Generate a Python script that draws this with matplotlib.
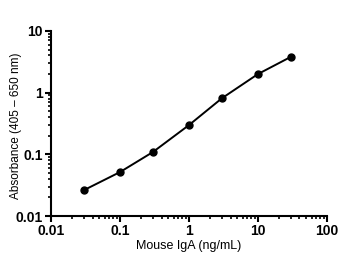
import numpy as np
import matplotlib.pyplot as plt
from matplotlib.ticker import LogLocator, FixedLocator, FixedFormatter

plt.rcParams['font.family'] = ['Liberation Sans', 'DejaVu Sans']

# Standard curve values
conc = [0.03, 0.1, 0.3, 1, 3, 10, 30]
absorb = [0.0263, 0.0516, 0.109, 0.298, 0.81, 2.0, 3.8]
x_ticks = [0.01, 0.1, 1, 10, 100]
x_labels = ['0.01', '0.1', '1', '10', '100']
y_ticks = [0.01, 0.1, 1, 10]
y_labels = ['0.01', '0.1', '1', '10']

fig = plt.figure(figsize=(3.5, 2.69), dpi=100)
ax = fig.add_axes([0.146, 0.197, 0.788, 0.688])
ax.plot(conc, absorb, color='black', linewidth=1.4, marker='o', markersize=5)
ax.set_xscale('log')
ax.set_yscale('log')
ax.set_xlim(0.01, 100)
ax.set_ylim(0.01, 10)

ax.xaxis.set_major_locator(FixedLocator(x_ticks))
ax.xaxis.set_major_formatter(FixedFormatter(x_labels))
ax.yaxis.set_major_locator(FixedLocator(y_ticks))
ax.yaxis.set_major_formatter(FixedFormatter(y_labels))
ax.xaxis.set_minor_locator(LogLocator(base=10, subs=np.arange(2, 10)))
ax.yaxis.set_minor_locator(LogLocator(base=10, subs=np.arange(2, 10)))

for s in ['top', 'right']:
    ax.spines[s].set_visible(False)
for s in ['left', 'bottom']:
    ax.spines[s].set_linewidth(1.5)

ax.tick_params(which='major', direction='out', length=4, width=1.5, labelsize=10, pad=2)
ax.tick_params(which='minor', direction='out', length=2.5, width=1.2)
for lbl in ax.get_xticklabels() + ax.get_yticklabels():
    lbl.set_fontweight('bold')

ax.set_xlabel('Mouse IgA (ng/mL)', fontsize=9, labelpad=1)
ax.set_ylabel('Absorbance (405 \u2013 650 nm)', fontsize=8.5)
# label sits between tick labels, as in the original
ax.yaxis.set_label_coords(-0.105, 0.49)

fig.savefig('out.png', dpi=100)
